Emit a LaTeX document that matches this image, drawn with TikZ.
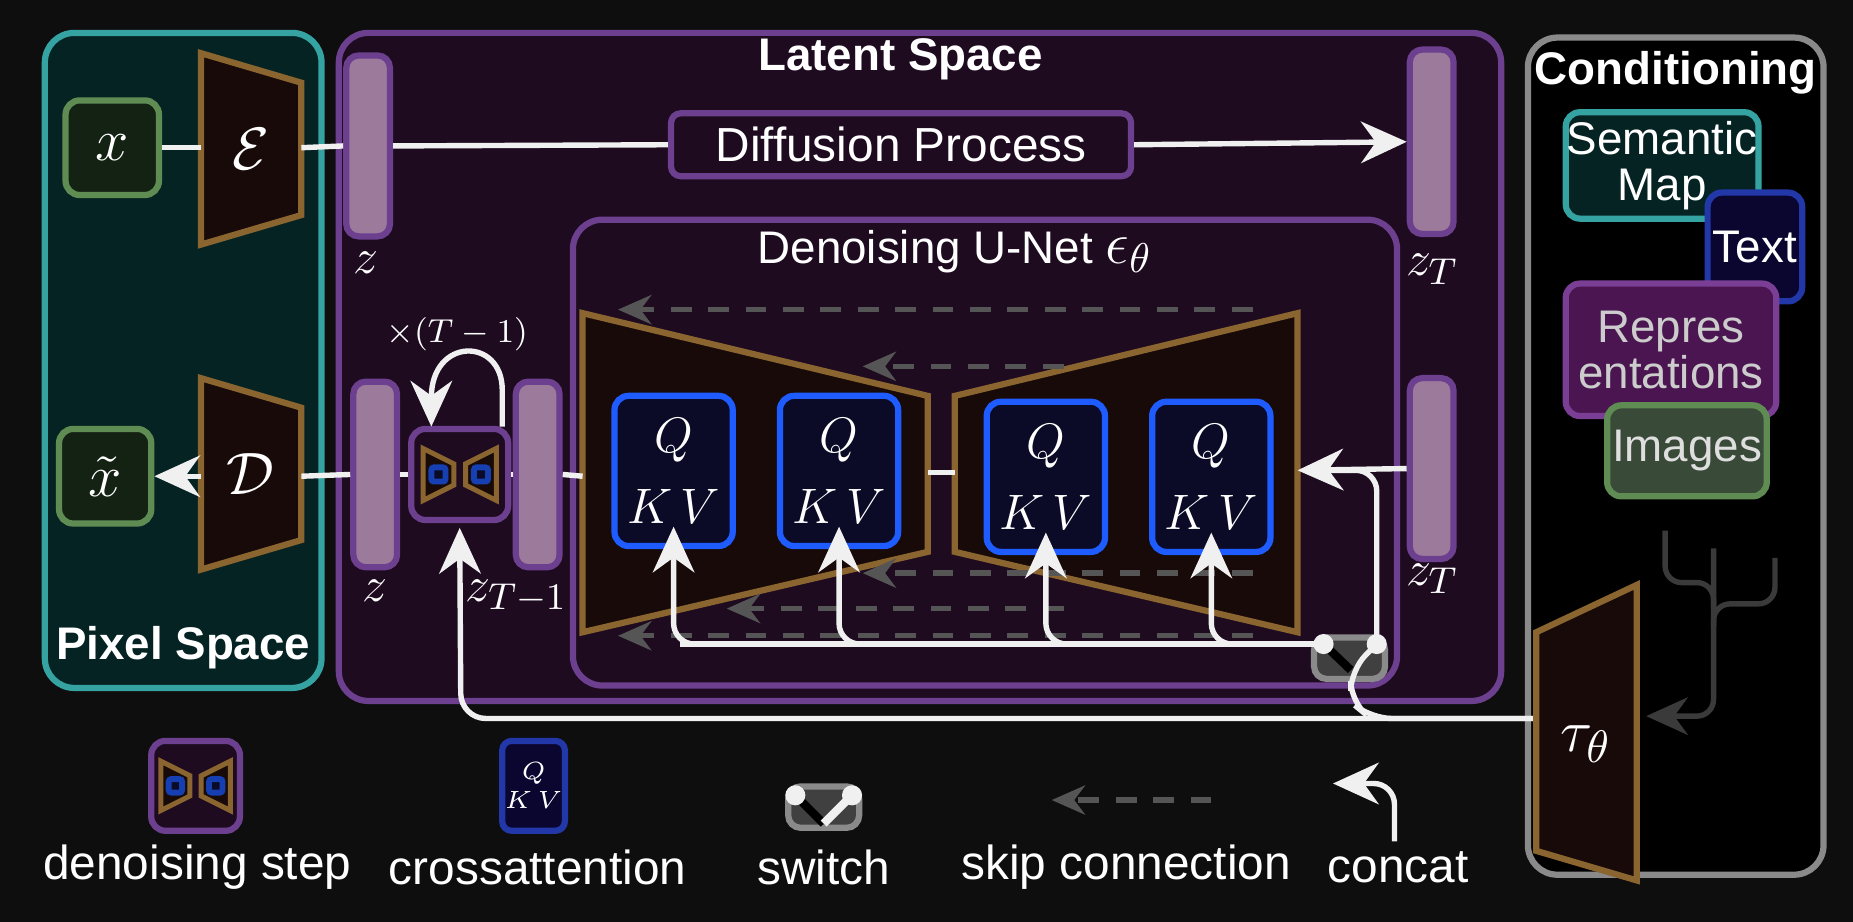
\documentclass[tikz,border=0pt]{standalone}
\usepackage{fontspec}
\setmainfont{Liberation Sans}
\usepackage{amsmath}
\usetikzlibrary{arrows.meta}
\definecolor{bgc}{HTML}{0E0E0E}
\definecolor{pixfill}{HTML}{062323}
\definecolor{tealc}{HTML}{36A3A3}
\definecolor{latfill}{HTML}{1E0B20}
\definecolor{purp}{HTML}{6D3F8F}
\definecolor{trapfill}{HTML}{180A08}
\definecolor{brownc}{HTML}{8A6530}
\definecolor{barfill}{HTML}{9C7A9C}
\definecolor{qkvfill}{HTML}{0B0B28}
\definecolor{qblue}{HTML}{1F5CFF}
\definecolor{swfill}{HTML}{404040}
\definecolor{swdraw}{HTML}{8A8A8A}
\definecolor{skipc}{HTML}{555555}
\definecolor{wl}{HTML}{F0F0F0}
\definecolor{xfill}{HTML}{132213}
\definecolor{xgreen}{HTML}{5E8C52}
\definecolor{txtfill}{HTML}{0B0630}
\definecolor{txtblue}{HTML}{2338A8}
\definecolor{repfill}{HTML}{4A1550}
\definecolor{repdraw}{HTML}{7A3E95}
\definecolor{imgfill}{HTML}{3A4A38}
\definecolor{treec}{HTML}{3A3A3A}
\tikzset{
  fs/.style={font=\fontsize{#1}{#1}\selectfont},
  bigbox/.style={draw, line width=1.5pt, rounded corners=0.25cm},
  bar/.style={draw=purp, fill=barfill, line width=1.5pt, rounded corners=3pt, minimum width=0.37cm},
  trap/.style={draw=brownc, fill=trapfill, line width=1.5pt},
  qkv/.style={draw=qblue, fill=qkvfill, line width=1.5pt, rounded corners=0.12cm, minimum width=1cm, minimum height=1.27cm, text=white, align=center, fs=13, inner sep=0pt},
  wline/.style={draw=wl, line width=1.3pt},
  warr/.style={wline, -{Stealth[length=11pt,width=10pt]}},
  skip/.style={draw=skipc, line width=1.3pt, dash pattern=on 5pt off 4pt, -{Stealth[length=8pt,width=7pt]}},
  lbl/.style={text=white, fs=13},
  dot/.style={circle, fill=wl, inner sep=0pt, minimum size=0.17cm},
  stepbox/.style={draw=purp, fill=latfill, line width=1.5pt, rounded corners=0.12cm, minimum width=0.82cm, minimum height=0.77cm},
  swbox/.style={draw=swdraw, fill=swfill, line width=1.5pt, rounded corners=3pt, minimum width=0.6cm, minimum height=0.35cm},
  stepicon/.pic={
    \foreach \s in {1,-1}{
      \draw[trap, line width=1.2pt] (-31*\s,-22)--(-5*\s,-9)--(-5*\s,9)--(-31*\s,22)--cycle;
      \draw[draw=qblue!70!black, fill=qkvfill, line width=1.4pt, rounded corners=0.6pt] (-24*\s,-6) rectangle (-12*\s,6);
    }
  },
}
\begin{document}
\begin{tikzpicture}[x=0.01cm,y=-0.01cm]
\fill[bgc] (0,0) rectangle (1568,780);
\useasboundingbox (0,0) rectangle (1568,780);

% big boxes
\node[bigbox, draw=tealc, fill=pixfill, minimum width=2.34cm, minimum height=5.54cm] (pix) at (155,305) {};
\node[bigbox, draw=purp, fill=latfill, minimum width=9.83cm, minimum height=5.65cm] (lat) at (778.5,310.5) {};
\node[bigbox, draw=swdraw, fill=black, minimum width=2.5cm, minimum height=7.08cm] (cond) at (1418,386) {};
\node[bigbox, draw=purp, fill=latfill, minimum width=6.97cm, minimum height=3.94cm] (unet) at (833.5,383) {};

\node[text=white, font=\bfseries\fontsize{11}{11}\selectfont] (latt) at (762,50) {Latent Space};
\node[text=white, font=\bfseries\fontsize{11}{11}\selectfont] (pixt) at (155,548) {Pixel Space};
\node[text=white, font=\bfseries\fontsize{11}{11}\selectfont] (condt) at (1418,62) {Conditioning};
\node[text=white, fs=11] (unett) at (808,213) {Denoising U-Net {\fontsize{14}{14}\selectfont$\epsilon_\theta$}};

% pixel space
\node[draw=xgreen, fill=xfill, line width=1.5pt, rounded corners=0.12cm, minimum width=0.79cm, minimum height=0.8cm, text=white, fs=14] (x) at (95,125) {$x$};
\node[draw=xgreen, fill=xfill, line width=1.5pt, rounded corners=0.12cm, minimum width=0.78cm, minimum height=0.8cm, text=white, fs=14] (xt) at (89,403) {$\tilde{x}$};
\draw[trap] (170,45)--(255,70)--(255,182)--(170,207)--cycle;
\node[text=white, fs=15] (E) at (212,126) {$\mathcal{E}$};
\draw[trap] (170,320)--(255,345)--(255,457)--(170,482)--cycle;
\node[text=white, fs=15] (D) at (212,401) {$\mathcal{D}$};
\coordinate (Ein) at (170,125); \coordinate (Eout) at (255,125);
\coordinate (Din) at (255,403); \coordinate (Dout) at (170,403);

% bars
\node[bar, minimum height=1.53cm] (z1) at (311.5,123.5) {};
\node[bar, minimum height=1.56cm] (zT1) at (1211.5,120) {};
\node[bar, minimum height=1.57cm] (z2) at (317.5,401.5) {};
\node[bar, minimum height=1.57cm] (zm) at (455,401.5) {};
\node[bar, minimum height=1.53cm] (zT2) at (1211.5,396.5) {};
\node[lbl] (lz1) at (310,222) {$z$};
\node[lbl] (lzT1) at (1212,228) {$z_T$};
\node[lbl] (lz2) at (317,500) {$z$};
\node[lbl] (lzm) at (437,505) {$z_{T-1}$};
\node[lbl] (lzT2) at (1212,490) {$z_T$};

% diffusion process
\node[draw=purp, fill=latfill, line width=1.5pt, rounded corners=0.08cm, minimum width=3.89cm, minimum height=0.51cm, text=white, fs=11.5] (dp) at (762.5,122.5) {Diffusion Process};
\draw[wline] (x) -- (Ein);
\draw[wline] (Eout) -- (z1.west);
\draw[wline] (z1.east) -- (dp.west);
\draw[warr] (dp.east) -- (zT1.west);

% unet trapezoids
\draw[trap] (493,265)--(785,335)--(785,467)--(493,535)--cycle;
\draw[trap] (808,335)--(1098,265)--(1098,535)--(808,467)--cycle;
\coordinate (UL) at (493,403); \coordinate (UR) at (1098,398);
\coordinate (M1) at (785,400); \coordinate (M2) at (808,400);
\draw[wline] (M1) -- (M2);

% skip connections
\coordinate (s1a) at (1060,262); \coordinate (s1b) at (523,262);
\coordinate (s2a) at (900,310); \coordinate (s2b) at (730,310);
\coordinate (s3a) at (1060,485); \coordinate (s3b) at (730,485);
\coordinate (s4a) at (900,515); \coordinate (s4b) at (615,515);
\coordinate (s5a) at (1060,538); \coordinate (s5b) at (523,538);
\foreach \i in {1,...,5} \draw[skip] (s\i a) -- (s\i b);

% qkv
\node[qkv] (q1) at (570,398.5) {$Q$\\[4pt]$K\,V$};
\node[qkv] (q2) at (710,398.5) {$Q$\\[4pt]$K\,V$};
\node[qkv] (q3) at (885,403.5) {$Q$\\[4pt]$K\,V$};
\node[qkv] (q4) at (1025,403.5) {$Q$\\[4pt]$K\,V$};

% denoising step
\node[stepbox] (step) at (389,401.5) {};
\pic at (step.center) {stepicon};
\draw[wline] (Din) -- (z2.west);
\draw[warr] (Dout) -- (xt.east);
\draw[wline] (z2.east) -- (step.west);
\draw[wline] (step.east) -- (zm.west);
\draw[wline] (zm.east) -- (UL);
\coordinate (lpa) at (425,361); \coordinate (lpb) at (365,361);
\draw[warr] (lpa) -- (425,330) .. controls (425,285) and (365,285) .. (lpb);
\node[text=white, fs=8] (tm) at (387,283) {$\times(T-1)$};

% switch
\node[swbox] (sw) at (1142,557) {};
\coordinate (sL) at (1120,545); \coordinate (sR) at (1165,545); \coordinate (sM) at (1143,567);
\draw[black, line width=2pt] (sL) -- (sM);
\draw[warr] (zT2.west) -- (UR);
\draw[wline, rounded corners=5pt] (sR) -- (1165,398) -- (1120,398);
\draw[wline, rounded corners=5pt] (sR) -- (sM) -- (1143,594) -- (1160,608) -- (1300,608);
\draw[wline] (sL) -- (575,545);
\foreach \q in {q1,q2,q3,q4}
  \draw[warr, rounded corners=5pt] (sL) -| ([yshift=0.19cm]\q.south);
\node[dot] (dL) at (sL) {};
\node[dot] (dR) at (sR) {};
\draw[warr, rounded corners=6pt] (1300,608) -- (390,608) -- ([yshift=-0.04cm]step.south);

% tau
\draw[trap] (1300,535)--(1385,495)--(1385,745)--(1300,720)--cycle;
\node[text=white, fs=15] (tau) at (1342,630) {$\tau_\theta$};

% conditioning inputs
\node[draw=tealc, fill=pixfill, line width=1.5pt, rounded corners=0.12cm, minimum width=1.63cm, minimum height=0.9cm, text=white, fs=11, align=center, inner sep=0pt] (sem) at (1406.5,140) {Semantic\\Map};
\node[draw=txtblue, fill=txtfill, line width=1.5pt, rounded corners=0.12cm, minimum width=0.8cm, minimum height=0.92cm, text=white, fs=11, inner sep=0pt] (txt) at (1485,209) {Text};
\node[draw=repdraw, fill=repfill, line width=1.5pt, rounded corners=0.12cm, minimum width=1.78cm, minimum height=1.12cm, text=white!80!black, fs=11, align=center, inner sep=0pt] (rep) at (1414,296) {Repres\\entations};
\node[draw=xgreen, fill=imgfill, line width=1.5pt, rounded corners=0.12cm, minimum width=1.35cm, minimum height=0.77cm, text=white!87!black, fs=11, inner sep=0pt] (img) at (1427.5,381.5) {Images};

% tree
\coordinate (t1) at (1409,449); \coordinate (t2) at (1450,464); \coordinate (t3) at (1502,472);
\coordinate (tip) at (1393,606);
\draw[treec, line width=1.3pt, rounded corners=4pt] (t1) -- (1409,493) -- (1450,493) -- (1450,515);
\draw[treec, line width=1.3pt, rounded corners=4pt] (t3) -- (1502,511) -- (1450,511) -- (1450,530);
\draw[treec, line width=1.3pt, rounded corners=4pt, -{Stealth[length=10pt,width=9pt]}] (t2) -- (1450,606) -- (tip);

% legend
\node[stepbox, minimum width=0.75cm, minimum height=0.76cm] (lstep) at (165.5,665) {};
\pic[scale=0.95] at (lstep.center) {stepicon};
\node[text=white, fs=11.5] (lstept) at (167,734) {denoising step};
\node[draw=txtblue, fill=txtfill, line width=1.5pt, rounded corners=0.08cm, minimum width=0.53cm, minimum height=0.76cm, text=white, fs=6, align=center, inner sep=0pt] (lq) at (451.5,665) {$Q$\\[1pt]$K\,V$};
\node[text=white, fs=11.5] (lqt) at (455,734) {crossattention};
\node[swbox] (lsw) at (697,683) {};
\coordinate (lsL) at (673,673); \coordinate (lsR) at (721,673); \coordinate (lsM) at (697,697);
\draw[black, line width=2pt] (lsL) -- (lsM);
\draw[wline, line width=2pt] (lsR) -- (lsM);
\node[dot] (ldL) at (lsL) {};
\node[dot] (ldR) at (lsR) {};
\node[text=white, fs=11.5] (lswt) at (697,734) {switch};
\coordinate (lka) at (1025,677); \coordinate (lkb) at (890,677);
\draw[skip] (lka) -- (lkb);
\node[text=white, fs=11.5] (lkt) at (953,734) {skip connection};
\coordinate (lca) at (1180,712); \coordinate (lcb) at (1128,663);
\draw[warr, rounded corners=5pt] (lca) -- (1180,663) -- (lcb);
\node[text=white, fs=11.5] (lct) at (1183,734) {concat};
\end{tikzpicture}
\end{document}
